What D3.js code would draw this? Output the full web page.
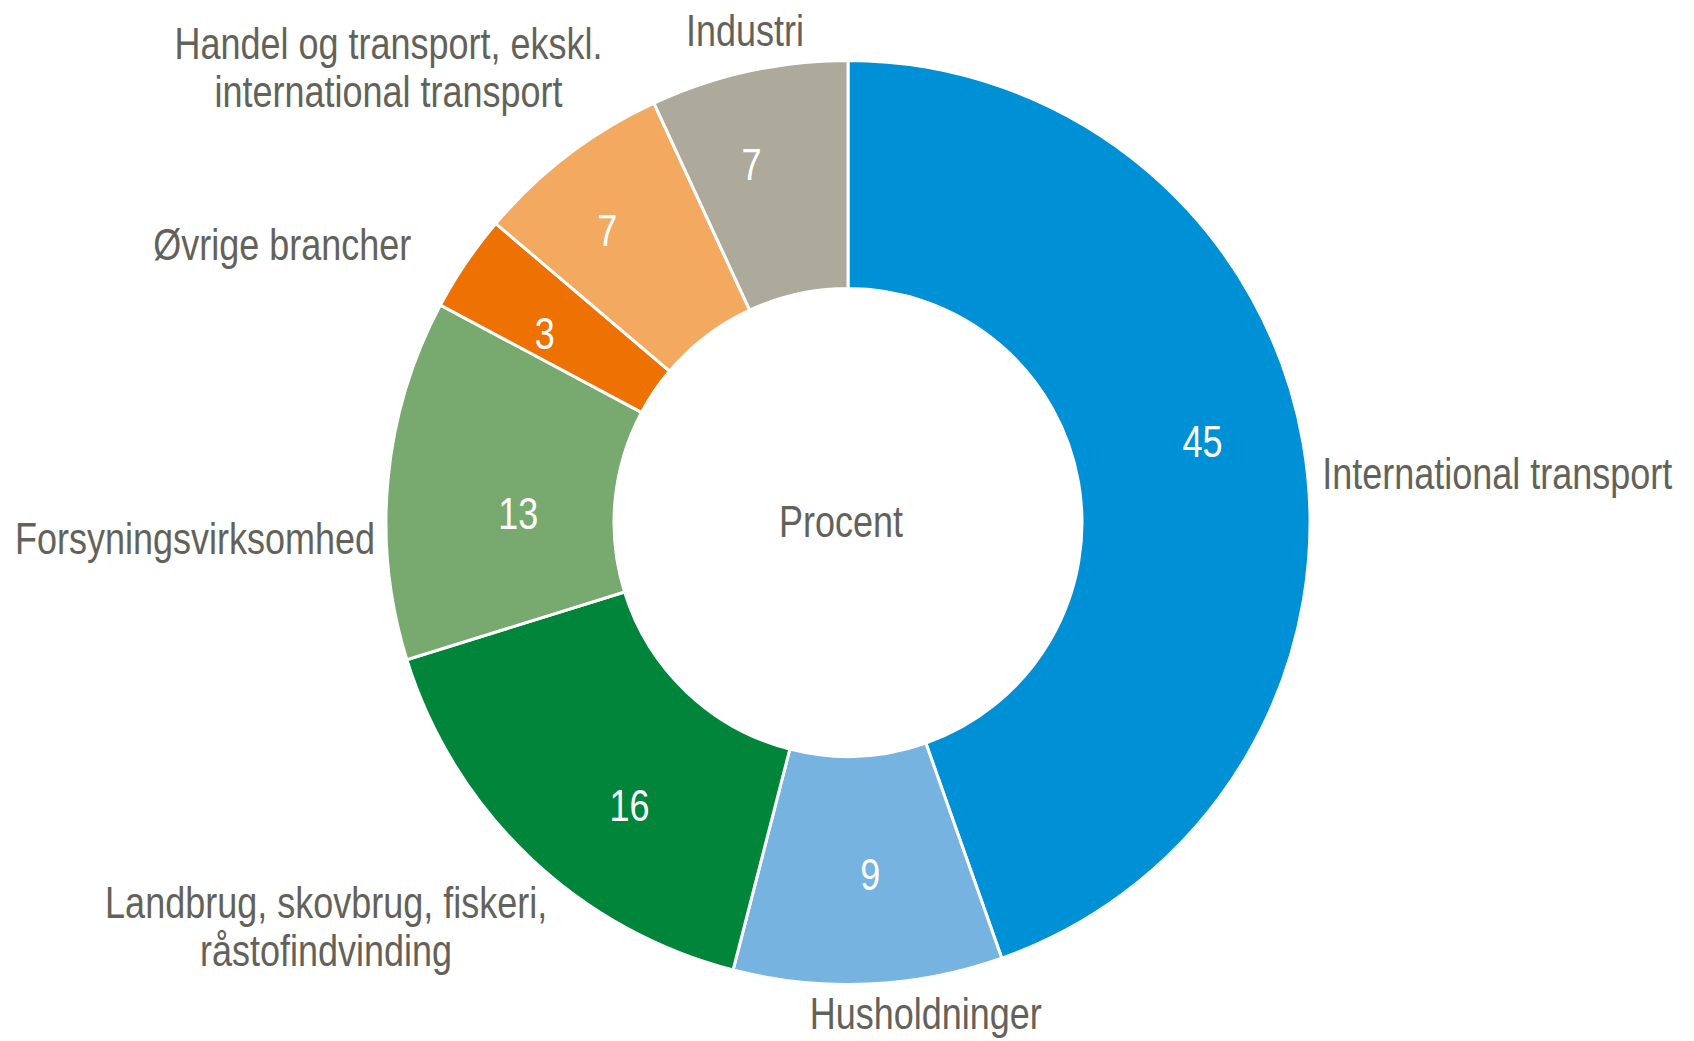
<!DOCTYPE html>
<html>
<head>
<meta charset="utf-8">
<script src="https://cdn.jsdelivr.net/npm/d3@7"></script>
<style>
  html, body { margin: 0; padding: 0; background: #ffffff; }
  svg { display: block; }
  text { font-family: "Liberation Sans", Arial, sans-serif; }
</style>
</head>
<body>
<svg id="chart" width="1694" height="1041"></svg>
<script>
// ---- data ----
const categories = [
  "International transport",
  "Husholdninger",
  "Landbrug, skovbrug, fiskeri, råstofindvinding",
  "Forsyningsvirksomhed",
  "Øvrige brancher",
  "Handel og transport, ekskl. international transport",
  "Industri"
];
const labelLines = [
  ["International transport"],
  ["Husholdninger"],
  ["Landbrug, skovbrug, fiskeri,", "råstofindvinding"],
  ["Forsyningsvirksomhed"],
  ["Øvrige brancher"],
  ["Handel og transport, ekskl.", "international transport"],
  ["Industri"]
];
const values = [44.6, 9.4, 16.2, 12.6, 3.4, 6.9, 6.9];
const colors = ["#0090d5", "#76b3e1", "#00853a", "#78aa70", "#ee7203", "#f4a961", "#adaa9b"];
const centerText = "Procent";

// ---- layout (not data) ----
const W = 1694, H = 1041;
const cx = 848, cy = 522.5;
const outerR = 462, innerR = 234;
const fontSize = 44;
const squeeze = 0.818;            // condensed look
const capHalf = fontSize * 0.358; // half cap height
const lineGap = 48;
const catLabelR = 470;
const valLabelR = 355;
const valAngleShift = -0.05;
// anchor + nudge relative to the point on the label ring
const labelLayout = [
  { anchor: "start",  dx: 11,   dy: 30 },
  { anchor: "middle", dx: 57,   dy: 21 },
  { anchor: "middle", dx: -198, dy: 63 },
  { anchor: "end",    dx: -5,   dy: 60 },
  { anchor: "end",    dx: -48,  dy: -14 },
  { anchor: "middle", dx: -175, dy: -81 },
  { anchor: "middle", dx: -2,   dy: -33.5 }
];
const valueNudge = [[8, -4], [-11, -2], [13, 14], [25, 6], [0, -5], [-12, -21], [-3, -16]];
const textColor = "#63625a";

const svg = d3.select("#chart");
const g = svg.append("g").attr("transform", `translate(${cx},${cy})`);

const data = categories.map((c, i) => ({ name: c, value: values[i], lines: labelLines[i], color: colors[i], idx: i }));

const pie = d3.pie().sort(null).value(d => d.value).startAngle(0).endAngle(2 * Math.PI);
const arcs = pie(data);

const arc = d3.arc().innerRadius(innerR).outerRadius(outerR);

g.selectAll("path.slice")
  .data(arcs)
  .join("path")
  .attr("class", "slice")
  .attr("d", arc)
  .attr("fill", d => d.data.color)
  .attr("stroke", "#ffffff")
  .attr("stroke-width", 3)
  .attr("stroke-linejoin", "miter");

function squeezedText(sel, x, y, str, anchor, fill) {
  sel.append("text")
    .attr("transform", `translate(${x},${y}) scale(${squeeze},1)`)
    .attr("text-anchor", anchor)
    .attr("font-size", fontSize)
    .attr("fill", fill)
    .text(str);
}

// value labels
const fmt = d3.format(".0f");
arcs.forEach((a, i) => {
  const mid = (a.startAngle + a.endAngle) / 2 + valAngleShift;
  const x = valLabelR * Math.sin(mid) + valueNudge[i][0];
  const y = -valLabelR * Math.cos(mid) + valueNudge[i][1];
  squeezedText(g, x, y + capHalf, fmt(a.data.value), "middle", "#ffffff");
});

// category labels
const labelArc = d3.arc().innerRadius(catLabelR).outerRadius(catLabelR);
arcs.forEach((a, i) => {
  const [bx, by] = labelArc.centroid(a);
  const L = labelLayout[i];
  const lines = a.data.lines;
  const blockTop = by + L.dy - (lines.length - 1) * lineGap / 2;
  lines.forEach((ln, j) => {
    squeezedText(g, bx + L.dx, blockTop + j * lineGap + capHalf, ln, L.anchor, textColor);
  });
});

// center text
squeezedText(g, -7, -1.5 + capHalf, centerText, "middle", textColor);
</script>
</body>
</html>
